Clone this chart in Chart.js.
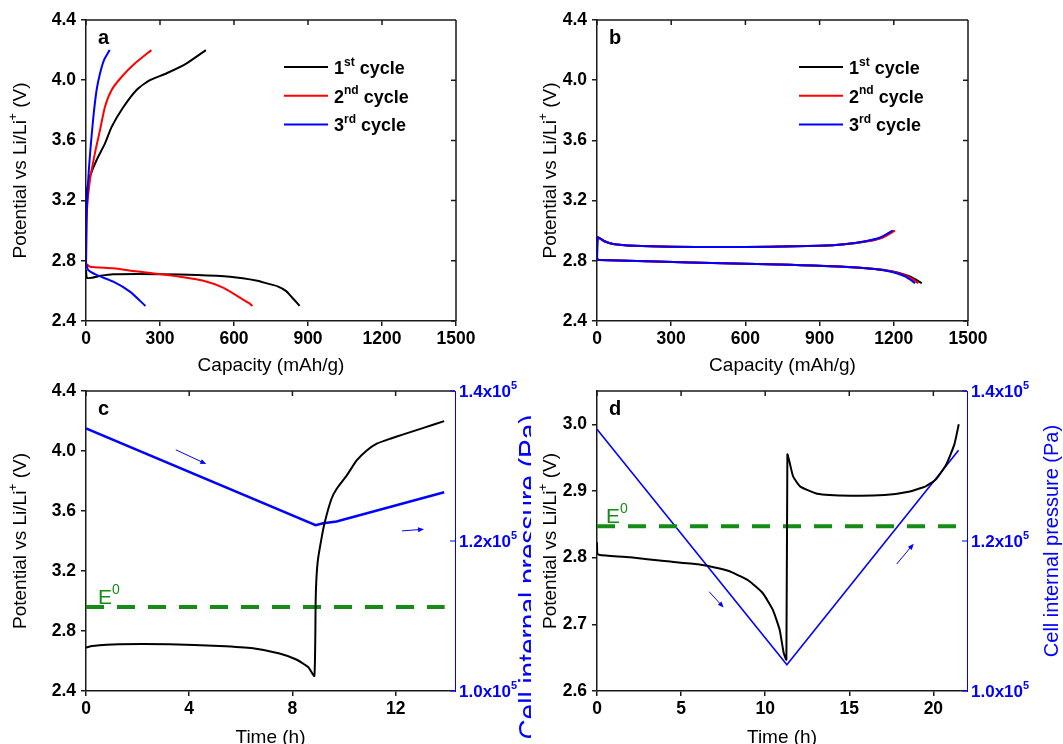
<!DOCTYPE html>
<html>
<head>
<meta charset="utf-8">
<script src="https://cdn.jsdelivr.net/npm/chart.js@4.4.1/dist/chart.umd.min.js"></script>
<style>
  html, body { margin: 0; padding: 0; background: #fff; overflow: hidden; }
  body { width: 1063px; height: 744px; position: relative; }
  canvas { position: absolute; }
</style>
</head>
<body>
<canvas id="chartA" width="531" height="380" style="left:0px;top:0px"></canvas>
<canvas id="chartB" width="533" height="380" style="left:530px;top:0px"></canvas>
<canvas id="chartC" width="531" height="380" style="left:0px;top:372px"></canvas>
<canvas id="chartD" width="533" height="380" style="left:530px;top:372px"></canvas>
<script>
const FONT = '"Liberation Sans", Arial, Helvetica, sans-serif';
const BLACK = '#000000', RED = '#ff0000', BLUE = '#0000ff', GREEN = '#168c16', AXIS = '#1a1a1a';

// ---------- panel a : capacity (mAh/g) / potential (V) ----------
const capA1Dis = [0, 4, 25, 60, 110, 300, 450, 584, 695, 733, 777, 810, 832, 850, 866];
const vA1Dis   = [2.74, 2.686, 2.688, 2.70, 2.71, 2.711, 2.706, 2.694, 2.668, 2.65, 2.63, 2.60, 2.563, 2.53, 2.50];
const capA1Chg = [0, 3, 16, 43, 77, 104, 151, 205, 259, 327, 408, 486];
const vA1Chg   = [2.75, 3.25, 3.36, 3.47, 3.58, 3.69, 3.82, 3.935, 4.0, 4.046, 4.112, 4.2];

const capA2Dis = [0, 16, 111, 203, 339, 476, 558, 627, 660, 675];
const vA2Dis   = [2.78, 2.761, 2.75, 2.73, 2.704, 2.668, 2.62, 2.552, 2.52, 2.50];
const capA2Chg = [0, 2, 16, 36, 57, 77, 104, 145, 199, 265];
const vA2Chg   = [2.78, 3.09, 3.337, 3.514, 3.67, 3.824, 3.935, 4.023, 4.112, 4.2];

const capA3Dis = [0, 9, 43, 111, 178, 241];
const vA3Dis   = [2.784, 2.739, 2.706, 2.661, 2.595, 2.50];
const capA3Chg = [0, 2, 9, 19, 30, 43, 57, 73, 96];
const vA3Chg   = [2.78, 3.07, 3.337, 3.56, 3.758, 3.935, 4.046, 4.134, 4.2];

// ---------- panel b ----------
const capB1Dis = [0, 3, 10, 240, 510, 780, 1050, 1185, 1260, 1290, 1313];
const vB1Dis   = [2.82, 2.808, 2.805, 2.795, 2.784, 2.773, 2.755, 2.733, 2.70, 2.675, 2.651];
const capB2Dis = [0, 3, 10, 240, 510, 780, 1050, 1185, 1255, 1280, 1299];
const vB2Dis   = [2.82, 2.808, 2.805, 2.795, 2.784, 2.773, 2.755, 2.731, 2.697, 2.673, 2.651];
const capB3Dis = [0, 3, 10, 240, 510, 780, 1050, 1180, 1245, 1268, 1286];
const vB3Dis   = [2.82, 2.808, 2.805, 2.795, 2.784, 2.773, 2.755, 2.731, 2.697, 2.673, 2.651];

const capB1Chg = [0, 3, 30, 65, 150, 300, 500, 700, 900, 1000, 1090, 1150, 1200];
const vB1Chg   = [2.80, 2.955, 2.93, 2.912, 2.90, 2.893, 2.891, 2.893, 2.90, 2.91, 2.93, 2.955, 3.0];
const capB2Chg = [0, 3, 30, 65, 150, 300, 500, 700, 900, 1000, 1095, 1156, 1205];
const vB2Chg   = [2.80, 2.955, 2.93, 2.912, 2.90, 2.893, 2.891, 2.893, 2.90, 2.91, 2.93, 2.955, 3.0];
const capB3Chg = [0, 3, 30, 65, 150, 300, 500, 700, 900, 1000, 1085, 1145, 1195];
const vB3Chg   = [2.80, 2.955, 2.93, 2.912, 2.90, 2.893, 2.891, 2.893, 2.90, 2.91, 2.93, 2.955, 3.0];

// ---------- panel c : time (h) ----------
const timeC = [0, 0.24, 1.28, 3.22, 5.17, 6.47, 7.5, 8.15, 8.61, 8.85, 8.9, 8.93, 8.99, 9.12, 9.25, 9.51, 9.71,
               10.1, 10.49, 10.88, 11.27, 11.79, 12.3, 13.08, 13.88];
const vC    = [2.69, 2.70, 2.712, 2.712, 2.70, 2.685, 2.65, 2.61, 2.56, 2.50, 3.0, 3.15, 3.277, 3.411, 3.523,
               3.68, 3.747, 3.836, 3.937, 4.004, 4.049, 4.082, 4.111, 4.154, 4.199];
const timeCP = [0, 8.9, 9.19, 9.71, 13.88];
const presC  = [1.350e5, 1.221e5, 1.2237e5, 1.2259e5, 1.2649e5];
const e0TimeC = [0, 13.9];
const e0C     = [2.96, 2.96];

// ---------- panel d ----------
const timeD = [0, 0.02, 0.16, 1.98, 4.0, 6.01, 7.22, 8.03, 9.04, 9.85, 10.45, 10.86, 11.1, 11.26, 11.32, 11.46,
               11.66, 12.07, 13.08, 15.1, 17.1, 18.53, 19.54, 20.14, 20.75, 21.25, 21.51];
const vD    = [2.823, 2.806, 2.804, 2.8005, 2.795, 2.790, 2.784, 2.778, 2.765, 2.747, 2.722, 2.692, 2.657, 2.647,
               2.955, 2.942, 2.922, 2.907, 2.896, 2.893, 2.894, 2.899, 2.907, 2.917, 2.939, 2.970, 3.000];
const timeDP = [0, 11.29, 21.5];
const presD  = [1.349e5, 1.035e5, 1.321e5];
const e0TimeD = [0, 21.55];
const e0D     = [2.847, 2.847];

// tick labels
const capTicks   = [0, 300, 600, 900, 1200, 1500];
const potTicks   = [2.4, 2.8, 3.2, 3.6, 4.0, 4.4];
const timeTicksC = [0, 4, 8, 12];
const timeTicksD = [0, 5, 10, 15, 20];
const potTicksD  = [2.6, 2.7, 2.8, 2.9, 3.0];
const presTicks  = [1.0e5, 1.2e5, 1.4e5];

// small direction arrows on the pressure curves [x1, p1, x2, p2]
const arrowsC = [[3.48, 1.3216e5, 4.66, 1.3027e5], [12.25, 1.2135e5, 13.1, 1.2157e5]];
const arrowsD = [[6.67, 1.1324e5, 7.53, 1.1112e5], [17.82, 1.1693e5, 18.83, 1.1964e5]];

const legendRows = [
  { parts: [['1', 0], ['st', 1], [' cycle', 0]], color: BLACK },
  { parts: [['2', 0], ['nd', 1], [' cycle', 0]], color: RED },
  { parts: [['3', 0], ['rd', 1], [' cycle', 0]], color: BLUE }
];
const potTitle = [['Potential vs Li/Li', 0], ['+', 1], [' (V)', 0]];
const presTitle = [['Cell internal pressure (Pa)', 0]];

// ---------- helpers ----------
const xy = (xs, ys) => xs.map((x, i) => ({ x: x, y: ys[i] }));

function lineDs(xs, ys, color, extra) {
  return Object.assign({
    data: xy(xs, ys), borderColor: color, backgroundColor: color,
    borderWidth: 2, pointRadius: 0, tension: 0.2, fill: false
  }, extra || {});
}

function zeroPad(s) { s.paddingLeft = 0; s.paddingRight = 0; s.paddingTop = 0; s.paddingBottom = 0; }

function xAxis(min, max, tickVals, title, h) {
  return {
    type: 'linear', position: 'bottom', min: min, max: max,
    afterBuildTicks: s => { s.ticks = tickVals.map(v => ({ value: v })); },
    ticks: { autoSkip: false, maxRotation: 0, padding: 3, color: '#000',
             font: { family: FONT, size: 17.5, weight: 'bold' }, callback: v => String(v) },
    grid: { display: true, drawOnChartArea: false, drawTicks: true, tickLength: 5, color: AXIS, lineWidth: 1.5 },
    border: { display: true, color: AXIS, width: 1.5 },
    title: { display: true, text: title, color: '#000', font: { family: FONT, size: 19 }, padding: { top: 0, bottom: 3 } },
    afterFit: s => { s.height = h; zeroPad(s); }
  };
}

function yAxis(min, max, tickVals, w) {
  return {
    type: 'linear', position: 'left', min: min, max: max,
    afterBuildTicks: s => { s.ticks = tickVals.map(v => ({ value: v })); },
    ticks: { autoSkip: false, padding: 5, color: '#000',
             font: { family: FONT, size: 17.5, weight: 'bold' }, callback: v => Number(v).toFixed(1) },
    grid: { display: true, drawOnChartArea: false, drawTicks: true, tickLength: 5, color: AXIS, lineWidth: 1.5 },
    border: { display: true, color: AXIS, width: 1.5 },
    afterFit: s => { s.width = w; zeroPad(s); }
  };
}

function presAxis(w) {
  return {
    type: 'linear', position: 'right', min: 1.0e5, max: 1.4e5,
    afterBuildTicks: s => { s.ticks = presTicks.map(v => ({ value: v })); },
    ticks: { display: false },
    grid: { display: false },
    border: { display: true, color: BLUE, width: 1 },
    afterFit: s => { s.width = w; zeroPad(s); }
  };
}

function drawRich(ctx, parts, x, y, size, bold, color, align) {
  const b = bold ? 'bold ' : '';
  const main = b + size + 'px ' + FONT;
  const small = b + Math.round(size * 0.65) + 'px ' + FONT;
  let w = 0;
  parts.forEach(p => { ctx.font = p[1] ? small : main; w += ctx.measureText(p[0]).width; });
  let cx = align === 'center' ? x - w / 2 : x;
  ctx.fillStyle = color;
  ctx.textAlign = 'left';
  ctx.textBaseline = 'alphabetic';
  parts.forEach(p => {
    ctx.font = p[1] ? small : main;
    ctx.fillText(p[0], cx, p[1] ? y - size * 0.47 : y);
    cx += ctx.measureText(p[0]).width;
  });
}

function drawArrow(ctx, x1, y1, x2, y2) {
  const a = Math.atan2(y2 - y1, x2 - x1);
  ctx.beginPath();
  ctx.moveTo(x1, y1); ctx.lineTo(x2 - 4 * Math.cos(a), y2 - 4 * Math.sin(a));
  ctx.stroke();
  ctx.beginPath();
  ctx.moveTo(x2, y2);
  ctx.lineTo(x2 - 6 * Math.cos(a) + 2.5 * Math.sin(a), y2 - 6 * Math.sin(a) - 2.5 * Math.cos(a));
  ctx.lineTo(x2 - 6 * Math.cos(a) - 2.5 * Math.sin(a), y2 - 6 * Math.sin(a) + 2.5 * Math.cos(a));
  ctx.closePath();
  ctx.fill();
}

function decor(o) {
  return {
    id: 'decor',
    afterDatasetsDraw(chart) {
      if (!o.arrows) return;
      const ctx = chart.ctx, sx = chart.scales.x, sp = chart.scales.y1;
      ctx.save();
      ctx.strokeStyle = BLUE; ctx.fillStyle = BLUE; ctx.lineWidth = 1;
      o.arrows.forEach(a => drawArrow(ctx, sx.getPixelForValue(a[0]), sp.getPixelForValue(a[1]),
                                           sx.getPixelForValue(a[2]), sp.getPixelForValue(a[3])));
      ctx.restore();
    },
    afterDraw(chart) {
      const ctx = chart.ctx, ca = chart.chartArea, sx = chart.scales.x, sy = chart.scales.y;
      ctx.save();
      // mirrored top (and right) axis with inward ticks
      ctx.strokeStyle = AXIS; ctx.lineWidth = 1.5;
      ctx.beginPath();
      ctx.moveTo(ca.left, ca.top); ctx.lineTo(ca.right, ca.top);
      sx.ticks.forEach(t => { const p = sx.getPixelForValue(t.value); ctx.moveTo(p, ca.top); ctx.lineTo(p, ca.top + 5); });
      if (!o.pressure) {
        ctx.moveTo(ca.right, ca.top); ctx.lineTo(ca.right, ca.bottom);
        sy.ticks.forEach(t => { const p = sy.getPixelForValue(t.value); ctx.moveTo(ca.right, p); ctx.lineTo(ca.right - 5, p); });
      }
      ctx.stroke();

      // panel letter
      ctx.fillStyle = '#000';
      ctx.font = 'bold 20px ' + FONT;
      ctx.textAlign = 'left'; ctx.textBaseline = 'alphabetic';
      ctx.fillText(o.letter, ca.left + 12, ca.top + 24);

      // left axis title (rotated, with superscript)
      const cy = (ca.top + ca.bottom) / 2;
      ctx.save();
      ctx.translate(26, cy); ctx.rotate(-Math.PI / 2);
      drawRich(ctx, potTitle, 0, 0, 19, false, '#000', 'center');
      ctx.restore();

      // legend
      if (o.legendX !== undefined) {
        legendRows.forEach((r, i) => {
          const ly = 67 + i * 28.7;
          ctx.strokeStyle = r.color; ctx.lineWidth = 2;
          ctx.beginPath(); ctx.moveTo(o.legendX, ly); ctx.lineTo(o.legendX + 44, ly); ctx.stroke();
          drawRich(ctx, r.parts, o.legendX + 50, ly + 7, 18, true, '#000', 'left');
        });
      }

      if (o.pressure) {
        const sp = chart.scales.y1;
        ctx.strokeStyle = BLUE; ctx.lineWidth = 1;
        ctx.beginPath();
        sp.ticks.forEach(t => { const p = sp.getPixelForValue(t.value); ctx.moveTo(ca.right, p); ctx.lineTo(ca.right - 5, p); });
        ctx.stroke();
        sp.ticks.forEach(t => {
          const p = sp.getPixelForValue(t.value);
          drawRich(ctx, [[(t.value / 1e5).toFixed(1) + 'x10', 0], ['5', 1]], ca.right + 4, p + 6, 17, true, BLUE, 'left');
        });
        ctx.save();
        ctx.translate(o.presX, o.presY); ctx.rotate(-Math.PI / 2);
        drawRich(ctx, presTitle, 0, 0, o.presSize, false, BLUE, 'center');
        ctx.restore();
        // E0 label
        const ey = sy.getPixelForValue(o.e0);
        drawRich(ctx, [['E', 0], ['0', 1]], ca.left + o.e0dx, ey - 3, 21, false, GREEN, 'left');
      }
      ctx.restore();
    }
  };
}

function makeChart(id, datasets, scales, pad, plug) {
  return new Chart(document.getElementById(id), {
    type: 'line',
    data: { datasets: datasets },
    options: {
      responsive: false, animation: false, devicePixelRatio: 1, events: [],
      layout: { padding: pad },
      plugins: { legend: { display: false }, tooltip: { enabled: false } },
      scales: scales
    },
    plugins: [plug]
  });
}

// ---------- panel a ----------
makeChart('chartA', [
  lineDs(capA3Dis, vA3Dis, BLUE, { order: 1 }), lineDs(capA3Chg, vA3Chg, BLUE, { order: 1 }),
  lineDs(capA2Dis, vA2Dis, RED, { order: 2 }), lineDs(capA2Chg, vA2Chg, RED, { order: 2 }),
  lineDs(capA1Dis, vA1Dis, BLACK, { order: 3 }), lineDs(capA1Chg, vA1Chg, BLACK, { order: 3 })
], {
  x: xAxis(0, 1500, capTicks, 'Capacity (mAh/g)', 59),
  y: yAxis(2.4, 4.4, potTicks, 86)
}, { left: 0, top: 20, right: 75, bottom: 0 }, decor({ letter: 'a', legendX: 284 }));

// ---------- panel b ----------
makeChart('chartB', [
  lineDs(capB3Dis, vB3Dis, BLUE, { order: 1 }), lineDs(capB3Chg, vB3Chg, BLUE, { order: 1 }),
  lineDs(capB2Dis, vB2Dis, RED, { order: 2 }), lineDs(capB2Chg, vB2Chg, RED, { order: 2 }),
  lineDs(capB1Dis, vB1Dis, BLACK, { order: 3 }), lineDs(capB1Chg, vB1Chg, BLACK, { order: 3 })
], {
  x: xAxis(0, 1500, capTicks, 'Capacity (mAh/g)', 59),
  y: yAxis(2.4, 4.4, potTicks, 67)
}, { left: 0, top: 20, right: 95, bottom: 0 }, decor({ letter: 'b', legendX: 269 }));

// ---------- panel c ----------
makeChart('chartC', [
  lineDs(timeC, vC, BLACK, { order: 1, tension: 0.15 }),
  lineDs(e0TimeC, e0C, GREEN, { order: 2, borderWidth: 4, borderDash: [18, 13], tension: 0 }),
  lineDs(timeCP, presC, BLUE, { order: 3, yAxisID: 'y1', borderWidth: 2.5, tension: 0 })
], {
  x: xAxis(0, 14.3, timeTicksC, 'Time (h)', 61),
  y: yAxis(2.4, 4.4, potTicks, 86),
  y1: presAxis(76)
}, { left: 0, top: 19, right: 0, bottom: 0 },
  decor({ letter: 'c', pressure: true, arrows: arrowsC, e0: e0C[0], e0dx: 12,
          presX: 538, presY: 205, presSize: 28 }));

// ---------- panel d ----------
makeChart('chartD', [
  lineDs(timeD, vD, BLACK, { order: 1, tension: 0.15 }),
  lineDs(e0TimeD, e0D, GREEN, { order: 2, borderWidth: 4, borderDash: [18, 13], tension: 0 }),
  lineDs(timeDP, presD, BLUE, { order: 3, yAxisID: 'y1', borderWidth: 1.6, tension: 0 })
], {
  x: xAxis(0, 22, timeTicksD, 'Time (h)', 61),
  y: yAxis(2.6, 3.05, potTicksD, 67),
  y1: presAxis(96)
}, { left: 0, top: 19, right: 0, bottom: 0 },
  decor({ letter: 'd', pressure: true, arrows: arrowsD, e0: e0D[0], e0dx: 9,
          presX: 528, presY: 169, presSize: 20 }));
</script>
</body>
</html>
